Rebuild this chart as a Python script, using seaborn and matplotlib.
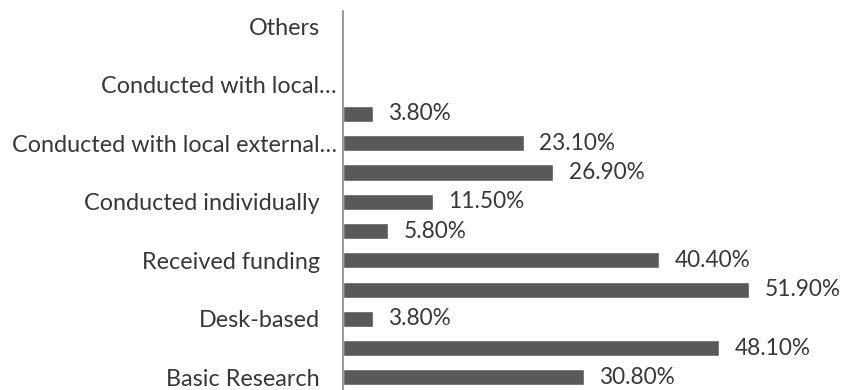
import numpy as np
import pandas as pd
import matplotlib
matplotlib.use("Agg")
import matplotlib.pyplot as plt
import matplotlib.transforms as mtransforms
import seaborn as sns

# Rows listed top to bottom; unlabeled rows have an empty tick label
tick_labels = [
    "Others", "", "Conducted with local\u2026", "",
    "Conducted with local external\u2026", "", "Conducted individually", "",
    "Received funding", "", "Desk-based", "", "Basic Research",
]
row_keys = [f"r{i}" for i in range(len(tick_labels))]
percent = [np.nan, np.nan, np.nan, 3.8, 23.1, 26.9, 11.5, 5.8, 40.4, 51.9, 3.8, 48.1, 30.8]

df = pd.DataFrame({"row": row_keys, "percent": percent})

sns.set_style("white")
plt.rcParams["font.family"] = ["Lato", "DejaVu Sans"]

W, H = 843, 390
fig = plt.figure(figsize=(W / 100, H / 100), dpi=100)
ax_left, ax_right = 343, 843
ax_top, ax_bottom = 11.5, 392
ax = fig.add_axes([ax_left / W, (H - ax_bottom) / H,
                   (ax_right - ax_left) / W, (ax_bottom - ax_top) / H])

sns.barplot(data=df, y="row", x="percent", order=row_keys, orient="h",
            color="#595959", saturation=1, width=0.55, ax=ax)

ax.set_xlim(0, 63.9)
ax.set_xlabel("")
ax.set_ylabel("")
ax.set_xticks([])
ax.set_yticks(range(len(row_keys)))
ax.set_yticklabels(tick_labels, fontsize=16.8, color="#383838")
ax.tick_params(axis="y", length=0, pad=16.5)

# Truncated labels sit a little further right
for lab in ax.get_yticklabels():
    if lab.get_text().endswith("\u2026"):
        lab.set_transform(lab.get_transform() +
                          mtransforms.ScaledTranslation(12 / 72, 0, fig.dpi_scale_trans))

for side in ["top", "right", "bottom"]:
    ax.spines[side].set_visible(False)
ax.spines["left"].set_color("#868686")
ax.spines["left"].set_linewidth(1.2)

# Value labels to the right of each bar
for i, v in enumerate(percent):
    if np.isnan(v):
        continue
    ax.annotate(f"{v:.2f}%", xy=(v, i), xytext=(11, 0), textcoords="offset points",
                ha="left", va="center", fontsize=16.3, color="#383838")

fig.savefig("out.png", dpi=100)
